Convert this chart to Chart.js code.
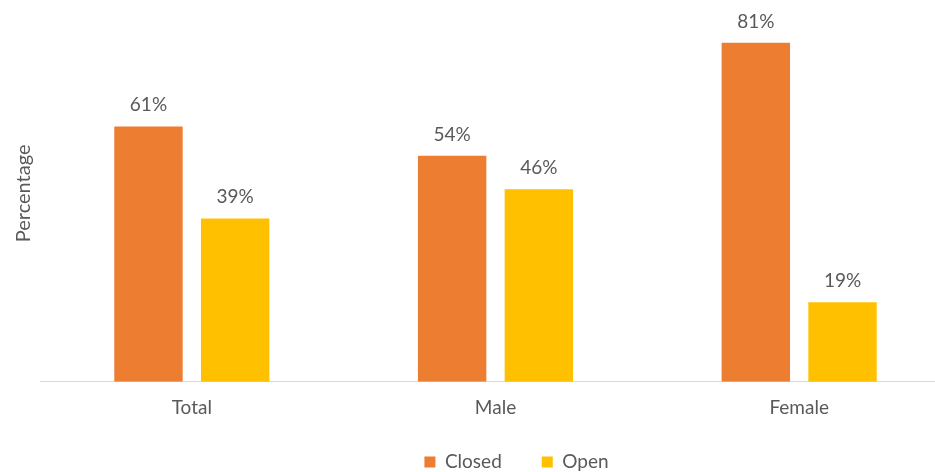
<!DOCTYPE html>
<html>
<head>
<meta charset="utf-8">
<script src="https://cdn.jsdelivr.net/npm/chart.js@4/dist/chart.umd.min.js"></script>
<style>
  html, body { margin: 0; padding: 0; background: #fff; overflow: hidden; }
  #wrap { width: 951px; height: 472px; }
</style>
</head>
<body>
<div id="wrap"><canvas id="chart"></canvas></div>
<script>
const categories = ['Total', 'Male', 'Female'];
const closedValues = [61, 54, 81];
const openValues = [39, 46, 19];
const seriesNames = ['Closed', 'Open'];

const TEXT_COLOR = '#595959';
const FONT = { family: 'Lato', size: 19 };

// writes "NN%" above each bar
const barValueLabels = {
  id: 'barValueLabels',
  afterDatasetsDraw(chart) {
    const ctx = chart.ctx;
    ctx.save();
    ctx.font = `${FONT.size}px ${FONT.family}`;
    ctx.fillStyle = TEXT_COLOR;
    ctx.textAlign = 'center';
    ctx.textBaseline = 'alphabetic';
    chart.data.datasets.forEach((ds, i) => {
      chart.getDatasetMeta(i).data.forEach((bar, j) => {
        ctx.fillText(ds.data[j] + '%', bar.x, bar.y - 15);
      });
    });
    ctx.restore();
  }
};

// move the legend block after layout (keeps its bottom at the canvas edge)
const legendOffset = {
  id: 'legendOffset',
  afterLayout(chart, args, opts) {
    const lg = chart.legend;
    if (!lg) return;
    lg.left += opts.dx;
    lg.right += opts.dx;
    lg.top = opts.top;
    lg.bottom = chart.height;
  }
};

new Chart(document.getElementById('chart'), {
  type: 'bar',
  data: {
    labels: categories,
    datasets: [
      { label: seriesNames[0], data: closedValues, backgroundColor: '#ED7D31' },
      { label: seriesNames[1], data: openValues, backgroundColor: '#FFC000' }
    ]
  },
  options: {
    responsive: true,
    maintainAspectRatio: false,
    animation: false,
    categoryPercentage: 0.571,
    barPercentage: 0.789,
    layout: { padding: { top: 5, left: 8, right: 0, bottom: 0 } },
    plugins: {
      legend: {
        position: 'bottom',
        maxHeight: 37.5,
        labels: { color: TEXT_COLOR, font: FONT, boxWidth: 11, boxHeight: 11, padding: 40 }
      },
      tooltip: { enabled: false },
      legendOffset: { dx: 37, top: 412.5 }
    },
    scales: {
      x: {
        grid: { display: false, drawTicks: false },
        border: { display: true, color: '#D9D9D9', width: 1 },
        ticks: { color: TEXT_COLOR, font: FONT, padding: 15 }
      },
      y: {
        min: 0,
        max: 90,
        grid: { display: false, drawTicks: false },
        border: { display: false },
        ticks: { display: false },
        title: {
          display: true,
          text: 'Percentage',
          color: TEXT_COLOR,
          font: { family: 'Lato', size: 20 },
          padding: { top: 4, bottom: 4 }
        }
      }
    }
  },
  plugins: [barValueLabels, legendOffset]
});
</script>
</body>
</html>
